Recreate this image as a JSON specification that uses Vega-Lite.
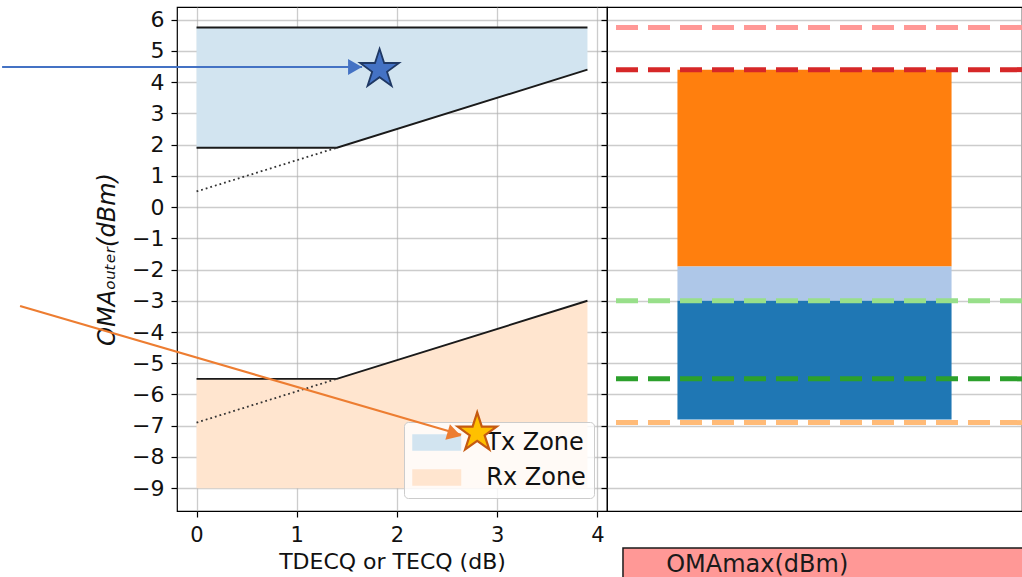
{
  "$schema": "https://vega.github.io/schema/vega-lite/v6.json",
  "padding": {"left": 0, "top": 6, "right": 0, "bottom": 0},
  "config": {
    "font": "DejaVu Sans",
    "view": {"stroke": "#000000", "strokeWidth": 1.2},
    "axis": {
      "gridColor": "#b0b0b0", "gridOpacity": 0.65, "gridWidth": 1.3,
      "tickColor": "#000000", "tickWidth": 1.2, "tickSize": 6,
      "labelColor": "#111111", "titleColor": "#111111", "labelFontSize": 20,
      "titleFontWeight": "normal", "domain": false, "zindex": 1,
      "labelFlush": false, "labelOverlap": false, "labelBound": false
    }
  },
  "datasets": {
    "zones": [
      {"zone": "Tx Zone", "x": 0, "lo": 1.9, "hi": 5.75},
      {"zone": "Tx Zone", "x": 1.4, "lo": 1.9, "hi": 5.75},
      {"zone": "Tx Zone", "x": 3.9, "lo": 4.4, "hi": 5.75},
      {"zone": "Rx Zone", "x": 0, "lo": -9, "hi": -5.5},
      {"zone": "Rx Zone", "x": 1.4, "lo": -9, "hi": -5.5},
      {"zone": "Rx Zone", "x": 3.9, "lo": -9, "hi": -3.0}
    ],
    "solid": [
      {"line": "tx_top", "x": 0, "y": 5.75},
      {"line": "tx_top", "x": 3.9, "y": 5.75},
      {"line": "tx_low", "x": 0, "y": 1.9},
      {"line": "tx_low", "x": 1.4, "y": 1.9},
      {"line": "tx_low", "x": 3.9, "y": 4.4},
      {"line": "rx_low", "x": 0, "y": -5.5},
      {"line": "rx_low", "x": 1.4, "y": -5.5},
      {"line": "rx_low", "x": 3.9, "y": -3.0}
    ],
    "dotted": [
      {"line": "tx_ext", "x": 0, "y": 0.5},
      {"line": "tx_ext", "x": 1.4, "y": 1.9},
      {"line": "rx_ext", "x": 0, "y": -6.9},
      {"line": "rx_ext", "x": 1.4, "y": -5.5}
    ],
    "bars": [
      {"bar": "OMAmax", "seg": "upper", "lo": -1.9, "hi": 4.4},
      {"bar": "OMAmax", "seg": "middle", "lo": -3.0, "hi": -1.9},
      {"bar": "OMAmax", "seg": "lower", "lo": -6.8, "hi": -3.0}
    ],
    "levels": [
      {"name": "TxMax", "y": 5.75},
      {"name": "TxMaxTDECQ", "y": 4.4},
      {"name": "RxTECQ", "y": -3.0},
      {"name": "RxMin", "y": -5.5},
      {"name": "RxMinExt", "y": -6.9}
    ],
    "arrows": [
      {"who": "Tx", "x": -1.94, "y": 4.485, "x2": 1.652, "y2": 4.485},
      {"who": "Rx", "x": -1.761, "y": -3.166, "x2": 2.64, "y2": -7.29}
    ],
    "heads": [
      {"who": "Tx", "x": 1.581, "y": 4.485},
      {"who": "Rx", "x": 2.572, "y": -7.263}
    ],
    "stars": [
      {"who": "Tx", "x": 1.826, "y": 4.41},
      {"who": "Rx", "x": 2.8, "y": -7.23}
    ],
    "cell": [{"label": "OMAmax(dBm)"}]
  },
  "spacing": 0,
  "bounds": "flush",
  "resolve": {
    "scale": {"color": "independent", "x": "independent", "y": "independent"},
    "legend": {"color": "independent"}
  },
  "hconcat": [
    {
      "width": 430,
      "height": 504,
      "layer": [
        {
          "data": {"name": "zones"},
          "mark": {"type": "area", "opacity": 1},
          "encoding": {
            "x": {
              "field": "x", "type": "quantitative",
              "scale": {"domain": [-0.195, 4.095], "nice": false, "zero": false},
              "axis": {"values": [0, 1, 2, 3, 4], "tickCount": 10, "format": "d", "title": "TDECQ or TECQ (dB)", "labelFontSize": 21, "titleFontSize": 22, "labelPadding": 7.5, "titlePadding": 6, "labelOverlap": false}
            },
            "y": {
              "field": "hi", "type": "quantitative",
              "scale": {"domain": [-9.73, 6.405], "nice": false, "zero": false},
              "axis": {"values": [-9, -8, -7, -6, -5, -4, -3, -2, -1, 0, 1, 2, 3, 4, 5, 6], "tickCount": 30, "format": "d", "title": "OMAₒᵤₜₑᵣ(dBm)", "labelFontSize": 22, "titleFontSize": 24, "titleFontStyle": "italic", "labelPadding": 7, "titlePadding": 12, "labelOverlap": false}
            },
            "y2": {"field": "lo"},
            "color": {
              "field": "zone", "type": "nominal",
              "scale": {"domain": ["Tx Zone", "Rx Zone"], "range": ["#d2e4f0", "#ffe5cf"]},
              "legend": {
                "title": null, "orient": "bottom-right", "offset": 13,
                "fillColor": "rgba(255,255,255,0.8)", "strokeColor": "#cccccc", "cornerRadius": 4,
                "padding": 8, "labelFontSize": 24, "labelColor": "#111111",
                "symbolType": "M-2,-0.68H2V0.68H-2Z", "symbolSize": 600, "symbolStrokeWidth": 0,
                "symbolOffset": 12.25, "symbolOpacity": 1, "labelOffset": 37, "rowPadding": 10, "zindex": 2
              }
            }
          }
        },
        {
          "data": {"name": "solid"},
          "mark": {"type": "line", "color": "#1a1a1a", "strokeWidth": 1.9},
          "encoding": {
            "x": {"field": "x", "type": "quantitative"},
            "y": {"field": "y", "type": "quantitative"},
            "detail": {"field": "line"}
          }
        },
        {
          "data": {"name": "dotted"},
          "mark": {"type": "line", "color": "#333333", "strokeWidth": 1.8, "strokeDash": [1.8, 3]},
          "encoding": {
            "x": {"field": "x", "type": "quantitative"},
            "y": {"field": "y", "type": "quantitative"},
            "detail": {"field": "line"}
          }
        }
      ]
    },
    {
      "spacing": 36,
      "bounds": "flush",
      "vconcat": [
        {
          "width": 415,
          "height": 504,
          "resolve": {"scale": {"x": "independent"}},
          "layer": [
            {
              "data": {"name": "bars"},
              "mark": {"type": "bar"},
              "encoding": {
                "x": {"field": "bar", "type": "nominal", "scale": {"paddingOuter": 0.257, "paddingInner": 0}, "axis": null},
                "y": {
                  "field": "hi", "type": "quantitative", "title": null,
                  "scale": {"domain": [-9.73, 6.405], "nice": false, "zero": false},
                  "axis": {"values": [-9, -8, -7, -6, -5, -4, -3, -2, -1, 0, 1, 2, 3, 4, 5, 6], "tickCount": 30, "labels": false, "title": null}
                },
                "y2": {"field": "lo"},
                "color": {
                  "field": "seg", "type": "nominal", "legend": null,
                  "scale": {
                    "domain": ["upper", "middle", "lower", "TxMax", "TxMaxTDECQ", "RxTECQ", "RxMin", "RxMinExt"],
                    "range": ["#ff7f0e", "#aec7e8", "#1f77b4", "#ff9896", "#d62728", "#98df8a", "#2ca02c", "#ffbb78"]
                  }
                }
              }
            },
            {
              "data": {"name": "levels"},
              "mark": {"type": "rule", "strokeWidth": 5, "strokeDash": [22, 10]},
              "encoding": {
                "y": {"field": "y", "type": "quantitative", "title": null},
                "color": {"field": "name", "type": "nominal", "legend": null}
              }
            },
            {
              "data": {"name": "arrows"},
              "transform": [{"filter": "datum.who == 'Tx'"}],
              "mark": {"type": "rule", "color": "#4472c4", "strokeWidth": 2},
              "encoding": {
                "x": {"field": "x", "type": "quantitative", "scale": {"domain": [4.095, 8.2354], "nice": false, "zero": false}, "axis": null},
                "x2": {"field": "x2"},
                "y": {"field": "y", "type": "quantitative", "title": null},
                "y2": {"field": "y2"}
              }
            },
            {
              "data": {"name": "heads"},
              "transform": [{"filter": "datum.who == 'Tx'"}],
              "mark": {"type": "point", "shape": "triangle-right", "filled": true, "color": "#4472c4", "opacity": 1, "size": 260, "angle": 0},
              "encoding": {
                "x": {"field": "x", "type": "quantitative", "scale": {"domain": [4.095, 8.2354], "nice": false, "zero": false}, "axis": null},
                "y": {"field": "y", "type": "quantitative", "title": null}
              }
            },
            {
              "data": {"name": "stars"},
              "transform": [{"filter": "datum.who == 'Tx'"}],
              "mark": {"type": "point", "shape": "M0,-1L0.2245,-0.309L0.951,-0.309L0.363,0.118L0.588,0.809L0,0.382L-0.588,0.809L-0.363,0.118L-0.951,-0.309L-0.2245,-0.309Z", "filled": true, "fill": "#4472c4", "stroke": "#1f3864", "strokeWidth": 1.8, "opacity": 1, "size": 1681},
              "encoding": {
                "x": {"field": "x", "type": "quantitative", "scale": {"domain": [4.095, 8.2354], "nice": false, "zero": false}, "axis": null},
                "y": {"field": "y", "type": "quantitative", "title": null}
              }
            },
            {
              "data": {"name": "arrows"},
              "transform": [{"filter": "datum.who == 'Rx'"}],
              "mark": {"type": "rule", "color": "#ed7d31", "strokeWidth": 2.2},
              "encoding": {
                "x": {"field": "x", "type": "quantitative", "scale": {"domain": [4.095, 8.2354], "nice": false, "zero": false}, "axis": null},
                "x2": {"field": "x2"},
                "y": {"field": "y", "type": "quantitative", "title": null},
                "y2": {"field": "y2"}
              }
            },
            {
              "data": {"name": "heads"},
              "transform": [{"filter": "datum.who == 'Rx'"}],
              "mark": {"type": "point", "shape": "triangle-right", "filled": true, "color": "#ed7d31", "opacity": 1, "size": 260, "angle": 16.4},
              "encoding": {
                "x": {"field": "x", "type": "quantitative", "scale": {"domain": [4.095, 8.2354], "nice": false, "zero": false}, "axis": null},
                "y": {"field": "y", "type": "quantitative", "title": null}
              }
            },
            {
              "data": {"name": "stars"},
              "transform": [{"filter": "datum.who == 'Rx'"}],
              "mark": {"type": "point", "shape": "M0,-1L0.2245,-0.309L0.951,-0.309L0.363,0.118L0.588,0.809L0,0.382L-0.588,0.809L-0.363,0.118L-0.951,-0.309L-0.2245,-0.309Z", "filled": true, "fill": "#ffc000", "stroke": "#c55a11", "strokeWidth": 2.2, "opacity": 1, "size": 1681},
              "encoding": {
                "x": {"field": "x", "type": "quantitative", "scale": {"domain": [4.095, 8.2354], "nice": false, "zero": false}, "axis": null},
                "y": {"field": "y", "type": "quantitative", "title": null}
              }
            }
          ]
        },
        {
          "width": 415,
          "height": 31,
          "view": {"stroke": null},
          "data": {"name": "cell"},
          "layer": [
            {
              "mark": {"type": "rect", "fill": "#ff9896", "stroke": "#1a1a1a", "strokeWidth": 1.5, "clip": true},
              "encoding": {
                "x": {"datum": 0.0385, "type": "quantitative", "scale": {"domain": [0, 1], "nice": false, "zero": false}, "axis": null},
                "x2": {"datum": 1.05},
                "y": {"datum": 0.968, "type": "quantitative", "scale": {"domain": [0, 1], "nice": false, "zero": false}, "axis": null},
                "y2": {"datum": -0.5}
              }
            },
            {
              "mark": {"type": "text", "align": "left", "baseline": "alphabetic", "fontSize": 24, "color": "#1a1a1a"},
              "encoding": {
                "text": {"field": "label"},
                "x": {"datum": 0.1425, "type": "quantitative"},
                "y": {"datum": 0.2, "type": "quantitative"}
              }
            }
          ]
        }
      ]
    }
  ]
}
